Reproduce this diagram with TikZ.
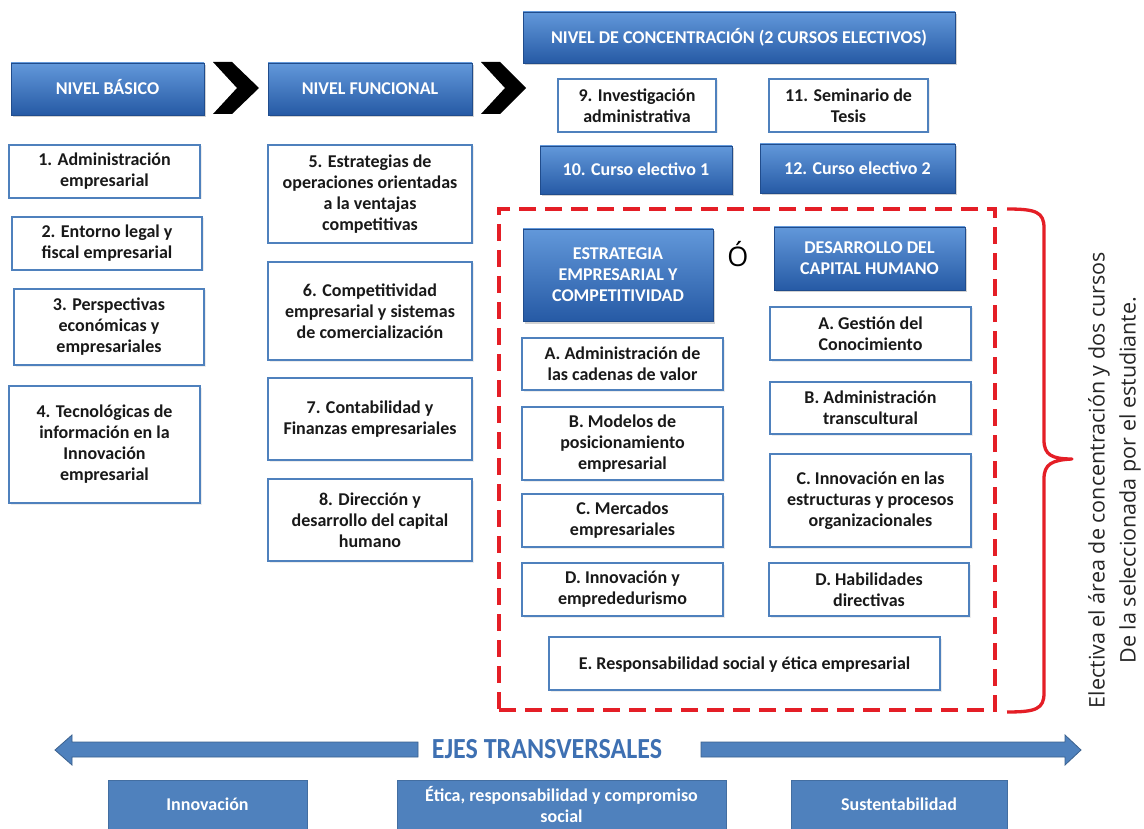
\documentclass[tikz,border=0pt]{standalone}
\usepackage{fontspec}
\setmainfont{Carlito}
\newfontfamily\opensans{Open Sans}
\usetikzlibrary{shadows}
\definecolor{bluebd}{RGB}{79,129,189}
\definecolor{hdrtop}{RGB}{98,152,218}
\definecolor{hdrbot}{RGB}{38,90,165}
\definecolor{redline}{RGB}{228,30,38}
\definecolor{ejesblue}{RGB}{62,112,178}
\begin{document}
\begin{tikzpicture}[x=1pt,y=-1pt,
  every node/.style={font=\fontsize{18}{21}\selectfont\bfseries, align=center, inner sep=2pt},
  sz/.style 2 args={minimum width=#1pt, minimum height=#2pt},
  one/.style={text height=11.6pt, text depth=0pt},
  hdr/.style={rectangle, top color=hdrtop, bottom color=hdrbot, draw=hdrbot!85!black, line width=0.6pt, text=white,
    drop shadow={opacity=0.35, shadow xshift=2pt, shadow yshift=-2.5pt}},
  obox/.style={rectangle, fill=white, draw=bluebd, line width=2.8pt, text=black!90,
    drop shadow={opacity=0.15, shadow xshift=1.5pt, shadow yshift=-1.5pt}},
  fbox/.style={rectangle, fill=bluebd, draw=bluebd!85!black, line width=0.8pt, text=white},
  chev/.style={fill=black},
  ejesarrow/.style={fill=bluebd, draw=bluebd!75!black, line width=0.8pt},
]
\fill[white] (0,0) rectangle (1144,829);
\useasboundingbox (0,0) rectangle (1144,829);

% level headers
\node[hdr, one, sz={193}{52}] (basico) at (107.5,89) {NIVEL BÁSICO};
\node[hdr, one, sz={204}{52}] (funcional) at (370,89) {NIVEL FUNCIONAL};
\node[hdr, one, sz={432}{51}] (conc) at (739,37.5) {NIVEL DE CONCENTRACIÓN (2 CURSOS ELECTIVOS)};

% chevrons
\fill[chev] (213,62) -- (232,62) -- (259,88) -- (232,114) -- (213,114) -- (237,88) -- cycle;
\fill[chev] (481,62) -- (500,62) -- (526,88) -- (500,114) -- (481,114) -- (505,88) -- cycle;

% basic level
\node[obox, sz={191}{53}] (b1) at (104.5,171.5) {1. Administración\\empresarial};
\node[obox, sz={190}{53}] (b2) at (107,243.5) {2. Entorno legal y\\fiscal empresarial};
\node[obox, sz={190}{76}] (b3) at (109,327) {3. Perspectivas\\económicas y\\empresariales};
\node[obox, sz={191}{117}] (b4) at (104.5,444.5) {4. Tecnológicas de\\información en la\\Innovación\\empresarial};

% functional level
\node[obox, sz={204}{98}] (b5) at (370,194) {5. Estrategias de\\operaciones orientadas\\a la ventajas\\competitivas};
\node[obox, sz={204}{98}] (b6) at (370,311) {6. Competitividad\\empresarial y sistemas\\de comercialización};
\node[obox, sz={204}{82}] (b7) at (370,419) {7. Contabilidad y\\Finanzas empresariales};
\node[obox, sz={204}{82}] (b8) at (370,520) {8. Dirección y\\desarrollo del capital\\humano};

% concentration level
\node[obox, sz={158}{53}] (b9) at (637,105.5) {9. Investigación\\administrativa};
\node[obox, sz={159}{53}] (b11) at (848.5,105.5) {11. Seminario de\\Tesis};
\node[hdr, one, sz={192}{48}] (ce1) at (636,170) {10. Curso electivo 1};
\node[hdr, one, sz={195}{49}] (ce2) at (857.5,168.5) {12. Curso electivo 2};

% elective areas frame
\node[draw=redline, line width=3.2pt, dash pattern=on 17pt off 9pt, sz={496}{501}, inner sep=0pt] (frame) at (747,459.5) {};

\node[hdr, sz={190}{92}] (estr) at (618,275) {ESTRATEGIA\\EMPRESARIAL Y\\COMPETITIVIDAD};
\node[font=\opensans\fontsize{27}{30}\selectfont, text=black] (o) at (738,254) {Ó};
\node[hdr, sz={191}{63}] (desa) at (869.5,258.5) {DESARROLLO DEL\\CAPITAL HUMANO};

\node[obox, sz={201}{52}] (eA) at (622.5,364) {A. Administración de\\las cadenas de valor};
\node[obox, sz={201}{73}] (eB) at (622.5,443.5) {B. Modelos de\\posicionamiento\\empresarial};
\node[obox, sz={201}{53}] (eC) at (622.5,520.5) {C. Mercados\\empresariales};
\node[obox, sz={201}{53}] (eD) at (622.5,589.5) {D. Innovación y\\emprededurismo};

\node[obox, sz={201}{53}] (dA) at (870.5,333.5) {A. Gestión del\\Conocimiento};
\node[obox, sz={201}{52}] (dB) at (870.5,408) {B. Administración\\transcultural};
\node[obox, sz={201}{93}] (dC) at (870.5,500.5) {C. Innovación en las\\estructuras y procesos\\organizacionales};
\node[obox, sz={200}{53}] (dD) at (869,589.5) {D. Habilidades\\directivas};

\node[obox, one, sz={391}{53}] (eE) at (744.5,663.5) {E. Responsabilidad social y ética empresarial};

% brace
\draw[redline, line width=3.3pt, line join=round]
  (1007,209) .. controls (1036,209) and (1044,212) .. (1044,228)
  -- (1044,440) .. controls (1044,455) and (1052,459) .. (1072,459)
  .. controls (1052,460) and (1044,464) .. (1044,479)
  -- (1044,693) .. controls (1044,709) and (1036,712) .. (1007,712);

\node[rotate=90, font=\opensans\fontsize{21.5}{31}\selectfont, text=black!85] (note) at (1114.5,480)
  {Electiva el área de concentración y dos cursos\\De la seleccionada por el estudiante.};

% transversal axes
\node[font=\fontsize{26}{28}\selectfont\bfseries, text=ejesblue, yscale=1.12] (ejes) at (547,749) {EJES TRANSVERSALES};
\fill[ejesarrow] (55,750) -- (72,735) -- (72,742) -- (418,742) -- (418,757) -- (72,757) -- (72,765) -- cycle;
\fill[ejesarrow] (701,742) -- (1065,742) -- (1065,735) -- (1081,750) -- (1065,765) -- (1065,757) -- (701,757) -- cycle;

\node[fbox, one, sz={199}{50}] (inn) at (207.5,805) {Innovación};
\node[fbox, sz={329}{50}] (eti) at (561.5,805) {Ética, responsabilidad y compromiso\\social};
\node[fbox, one, sz={216}{50}] (sus) at (899,805) {Sustentabilidad};
\end{tikzpicture}
\end{document}
